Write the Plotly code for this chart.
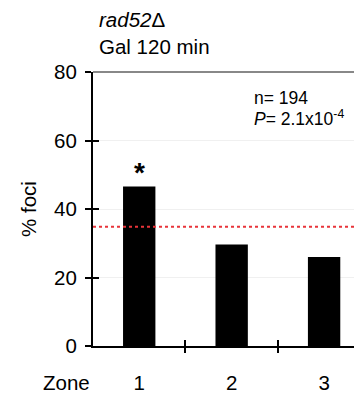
import plotly.graph_objects as go

zones = [1, 2, 3]
zone_labels = ["1", "2", "3"]
foci_pct = [46.6, 29.6, 26.0]
threshold = 34.8
y_ticks = [0, 20, 40, 60, 80]
boundaries = [1.5, 2.5]

FONT = "Arial, Liberation Sans, sans-serif"
FS = 20.5
FS_SMALL = 17.5

fig = go.Figure()
fig.add_trace(go.Bar(x=zones, y=foci_pct, width=0.35,
                     marker=dict(color="black", line=dict(width=0)),
                     xaxis="x", yaxis="y", hoverinfo="skip"))
# invisible traces to anchor auxiliary tick axes
fig.add_trace(go.Scatter(x=zones, y=foci_pct, mode="none", xaxis="x2", yaxis="y2",
                         hoverinfo="skip", showlegend=False))
fig.add_trace(go.Scatter(x=zones, y=foci_pct, mode="none", xaxis="x3", yaxis="y",
                         hoverinfo="skip", showlegend=False))

fig.add_hline(y=threshold, line=dict(color="#e8343a", width=2, dash="dot"))

xr = [0.5, 3.41]
yr = [0, 80]

# page body adds an 8px offset; the figure is sized to fill the rest
fig.update_layout(
    width=354, height=389,
    margin=dict(l=85, r=0, t=64, b=51),
    plot_bgcolor="white", paper_bgcolor="white",
    showlegend=False,
    font=dict(family=FONT, color="black", size=FS),
    xaxis=dict(range=xr, tickvals=zones, ticktext=zone_labels, ticks="",
               showline=True, linecolor="black", linewidth=2, showgrid=False,
               zeroline=False, ticklabelstandoff=17,
               tickfont=dict(size=FS, family=FONT)),
    xaxis2=dict(range=xr, overlaying="x", anchor="y2", tickvals=boundaries,
                ticks="outside", ticklen=6, tickwidth=2, tickcolor="black",
                showticklabels=False, showline=False, showgrid=False, zeroline=False),
    xaxis3=dict(range=xr, overlaying="x", anchor="y", tickvals=boundaries,
                ticks="inside", ticklen=6, tickwidth=2, tickcolor="black",
                showticklabels=False, showline=False, showgrid=False, zeroline=False),
    yaxis=dict(range=yr, tickvals=y_ticks, ticks="outside", ticklen=6, tickwidth=2,
               tickcolor="black", showline=True, linecolor="black", linewidth=2,
               showgrid=True, gridcolor="#f0f0f0", gridwidth=1, zeroline=False,
               ticklabelstandoff=4,
               title=dict(text="% foci", standoff=12, font=dict(size=FS, family=FONT)),
               tickfont=dict(size=FS, family=FONT)),
    yaxis2=dict(range=yr, overlaying="y", anchor="x2", tickvals=y_ticks,
                ticks="inside", ticklen=6, tickwidth=2, tickcolor="black",
                showticklabels=False, showline=False, showgrid=False, zeroline=False),
)

# top frame line
fig.add_shape(type="line", xref="paper", yref="paper", x0=0, x1=1, y0=1, y1=1,
              line=dict(color="#888888", width=2))

ann = []
ann.append(dict(text="<i>rad52</i>Δ", xref="paper", yref="paper", x=0.015, y=1.0,
                yshift=53, xanchor="left", yanchor="middle", showarrow=False,
                font=dict(size=FS, family=FONT)))
ann.append(dict(text="Gal 120 min", xref="paper", yref="paper", x=0.015, y=1.0,
                yshift=26, xanchor="left", yanchor="middle", showarrow=False,
                font=dict(size=FS, family=FONT)))
ann.append(dict(text="n= 194", xref="paper", yref="paper", x=0.59, y=1.0,
                yshift=-26, xanchor="left", yanchor="middle", showarrow=False,
                font=dict(size=FS_SMALL, family=FONT)))
ann.append(dict(text="<i>P</i>= 2.1x10<sup>-4</sup>", xref="paper", yref="paper",
                x=0.59, y=1.0, yshift=-46, xanchor="left", yanchor="middle",
                showarrow=False, font=dict(size=FS_SMALL, family=FONT)))
ann.append(dict(text="<b>*</b>", x=zones[0], y=foci_pct[0], xref="x", yref="y",
                yshift=14, showarrow=False, yanchor="middle",
                font=dict(size=28, family=FONT)))
ann.append(dict(text="Zone", xref="paper", yref="paper", x=-0.1, y=0, yshift=-36,
                xanchor="center", yanchor="middle", showarrow=False,
                font=dict(size=FS, family=FONT)))
fig.update_layout(annotations=ann)

fig.write_html("out.html")
